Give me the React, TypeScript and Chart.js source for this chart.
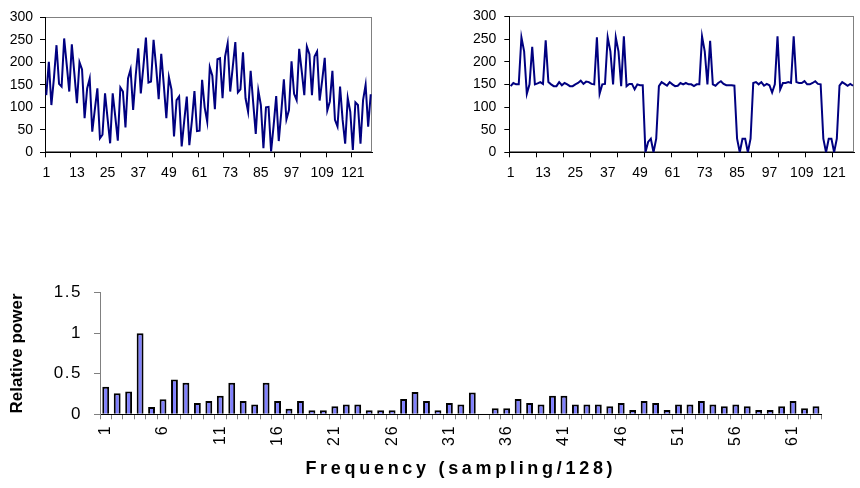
import React, { useEffect, useRef } from 'react';
import { Chart, registerables } from 'chart.js';

Chart.register(...registerables);
Chart.defaults.font.family = "'Liberation Sans', Arial, sans-serif";
Chart.defaults.color = '#000';

// ---------- data ----------
const sampleLabels: string[] = Array.from({ length: 128 }, (_, i) => String(i + 1));

const signalMixed: number[] = [
  127, 201, 105, 165, 238, 152, 146, 253, 195, 135,
  240, 175, 109, 200, 184, 76, 142, 164, 46, 95,
  142, 31, 39, 131, 75, 20, 131, 80, 26, 144,
  135, 55, 164, 184, 94, 170, 231, 131, 190, 255,
  155, 157, 250, 190, 118, 219, 150, 76, 167, 140,
  35, 116, 124, 13, 70, 124, 16, 70, 136, 47,
  48, 161, 100, 68, 189, 170, 96, 207, 209, 120,
  213, 242, 135, 190, 245, 133, 140, 222, 120, 90,
  181, 110, 41, 137, 105, 9, 100, 101, 2, 60,
  125, 25, 90, 162, 73, 94, 202, 130, 116, 230,
  180, 127, 235, 218, 127, 213, 224, 115, 160, 210,
  93, 113, 181, 72, 57, 146, 72, 19, 121, 90,
  5, 111, 105, 19, 116, 150, 57, 129,
];

const signalPulses: number[] = [
  146, 153, 150, 150, 254, 223, 129, 150, 233, 150,
  152, 155, 151, 247, 155, 150, 146, 146, 155, 148,
  153, 150, 146, 146, 150, 153, 158, 151, 156, 155,
  151, 150, 254, 129, 150, 151, 254, 223, 150, 254,
  223, 146, 256, 146, 151, 151, 139, 150, 148, 148,
  0, 23, 30, 0, 30, 146, 155, 151, 147, 155,
  150, 146, 147, 153, 150, 153, 150, 150, 146, 150,
  150, 256, 223, 150, 246, 150, 147, 153, 157, 151,
  148, 148, 148, 147, 30, 0, 30, 30, 0, 30,
  153, 155, 150, 155, 147, 151, 148, 132, 150, 256,
  139, 153, 153, 155, 153, 256, 155, 153, 153, 157,
  150, 150, 153, 157, 151, 150, 30, 0, 30, 30,
  0, 30, 147, 155, 151, 147, 151, 147,
];

const freqLabels: string[] = Array.from({ length: 63 }, (_, i) => String(i + 1));

const relativePower: number[] = [
  0.34, 0.26, 0.28, 1.0, 0.09, 0.185, 0.43, 0.39, 0.14, 0.165,
  0.23, 0.39, 0.165, 0.12, 0.39, 0.165, 0.07, 0.165, 0.05, 0.05,
  0.1, 0.12, 0.12, 0.05, 0.05, 0.05, 0.19, 0.275, 0.165, 0.05,
  0.14, 0.12, 0.27, 0, 0.074, 0.074, 0.19, 0.14, 0.12, 0.23,
  0.23, 0.12, 0.12, 0.12, 0.1, 0.14, 0.053, 0.164, 0.14, 0.053,
  0.12, 0.12, 0.164, 0.12, 0.1, 0.12, 0.1, 0.053, 0.053, 0.1,
  0.164, 0.074, 0.1,
];

const NAVY = '#000080';
const GRAY = '#808080';

// wraps a scale drawing method so its text gets canvas letter spacing
function letterSpace(scale: any, method: string, spacing: string) {
  const key = '__ls_' + method;
  if (scale[key]) return;
  const orig = scale[method];
  scale[method] = function (...args: any[]) {
    const ctx = this.ctx;
    const prev = ctx.letterSpacing;
    ctx.letterSpacing = spacing;
    try {
      return orig.apply(this, args);
    } finally {
      ctx.letterSpacing = prev || '0px';
    }
  };
  scale[key] = true;
}

const framePlugin = {
  id: 'plotFrame',
  beforeDraw(chart: any) {
    const { ctx, chartArea: a } = chart;
    ctx.save();
    ctx.strokeStyle = GRAY;
    ctx.lineWidth = 1;
    const l = Math.round(a.left) + 0.5;
    const t = Math.round(a.top) + 0.5;
    const r = Math.round(a.right) - 0.5;
    const b = Math.round(a.bottom) - 0.5;
    ctx.strokeRect(l, t, r - l, b - t);
    ctx.restore();
  },
};

function lineConfig(
  values: number[],
  o: { top: number; right: number; yWidth: number; xHeight: number; yPad: number }
): any {
  return {
    type: 'line',
    data: {
      labels: sampleLabels,
      datasets: [
        {
          data: values,
          borderColor: NAVY,
          borderWidth: 2,
          pointRadius: 0,
          tension: 0,
          fill: false,
        },
      ],
    },
    options: {
      animation: false,
      responsive: false,
      devicePixelRatio: 1,
      events: [],
      layout: { padding: { left: 0, top: o.top, right: o.right, bottom: 0 } },
      plugins: { legend: { display: false }, tooltip: { enabled: false } },
      scales: {
        x: {
          type: 'category',
          offset: true,
          grid: {
            offset: true,
            drawOnChartArea: false,
            drawTicks: true,
            tickLength: 5,
            tickColor: '#000',
            tickWidth: (c: any) => (typeof c.index === 'number' && c.index % 10 === 0 ? 1 : 0),
          },
          border: { display: true, color: '#000', width: 1 },
          ticks: {
            autoSkip: false,
            maxRotation: 0,
            minRotation: 0,
            padding: 7,
            color: '#000',
            font: { size: 14 },
            callback: (_v: any, i: number) => (i % 12 === 0 ? sampleLabels[i] : ''),
          },
          afterFit: (s: any) => {
            s.height = o.xHeight;
          },
        },
        y: {
          min: 0,
          max: 300,
          ticks: { stepSize: 50, padding: o.yPad, color: '#000', font: { size: 14 } },
          grid: { drawOnChartArea: false, tickLength: 5, tickColor: '#000' },
          border: { display: true, color: '#000', width: 1 },
          afterFit: (s: any) => {
            s.width = o.yWidth;
          },
        },
      },
    },
    plugins: [framePlugin],
  };
}

function barConfig(): any {
  return {
    type: 'bar',
    data: {
      labels: freqLabels,
      datasets: [
        {
          data: relativePower,
          backgroundColor: '#8080ff',
          borderColor: '#000',
          borderWidth: 2,
          barPercentage: 0.6,
          categoryPercentage: 1,
        },
      ],
    },
    options: {
      animation: false,
      responsive: false,
      devicePixelRatio: 1,
      events: [],
      layout: { padding: { left: 0, top: 22.7, right: 38.3, bottom: 0 } },
      plugins: { legend: { display: false }, tooltip: { enabled: false } },
      scales: {
        x: {
          grid: {
            offset: true,
            drawOnChartArea: false,
            tickLength: 5,
            tickColor: GRAY,
          },
          border: { display: true, color: '#000', width: 1 },
          ticks: {
            autoSkip: false,
            minRotation: 90,
            maxRotation: 90,
            padding: 5,
            color: '#000',
            font: { size: 16 },
            callback: (_v: any, i: number) => (i % 5 === 0 ? freqLabels[i] : ''),
          },
          title: {
            display: true,
            text: 'Frequency (sampling/128)',
            color: '#000',
            font: { size: 18, weight: 'bold' },
            padding: { top: 0, bottom: 8 },
          },
          afterFit: (s: any) => {
            s.height = 73.7;
            letterSpace(s, 'drawLabels', '2px');
            letterSpace(s, 'drawTitle', '3.7px');
          },
        },
        y: {
          min: 0,
          max: 1.5,
          ticks: {
            stepSize: 0.5,
            padding: 12,
            color: '#000',
            font: { size: 17 },
            callback: (v: any) => String(v),
          },
          grid: { drawOnChartArea: false, tickLength: 6, tickColor: GRAY },
          border: { display: true, color: GRAY, width: 1 },
          title: {
            display: true,
            text: 'Relative power',
            color: '#000',
            font: { size: 17, weight: 'bold' },
            padding: { top: 7, bottom: 0 },
          },
          afterFit: (s: any) => {
            s.width = 100;
            letterSpace(s, 'drawLabels', '1.5px');
          },
        },
      },
    },
  };
}

export default function App() {
  const refA = useRef<HTMLCanvasElement>(null);
  const refB = useRef<HTMLCanvasElement>(null);
  const refC = useRef<HTMLCanvasElement>(null);

  useEffect(() => {
    const charts: Chart[] = [];
    if (refA.current)
      charts.push(
        new Chart(
          refA.current,
          lineConfig(signalMixed, { top: 17.3, right: 8, yWidth: 45, xHeight: 37.7, yPad: 7 })
        )
      );
    if (refB.current)
      charts.push(
        new Chart(
          refB.current,
          lineConfig(signalPulses, { top: 14.3, right: 2.3, yWidth: 69.3, xHeight: 37.7, yPad: 8 })
        )
      );
    if (refC.current) charts.push(new Chart(refC.current, barConfig()));
    return () => {
      charts.forEach((c) => c.destroy());
    };
  }, []);

  const abs = (left: number, top: number): React.CSSProperties => ({
    position: 'absolute',
    left,
    top,
    display: 'block',
  });

  return (
    <div
      style={{
        position: 'absolute',
        left: 0,
        top: 0,
        width: 860,
        height: 488,
        background: '#fff',
        overflow: 'hidden',
      }}
    >
      <canvas ref={refA} width={380} height={190} style={abs(0, 0)} />
      <canvas ref={refB} width={420} height={190} style={abs(440, 0)} />
      <canvas ref={refC} width={860} height={218} style={abs(0, 270)} />
    </div>
  );
}
